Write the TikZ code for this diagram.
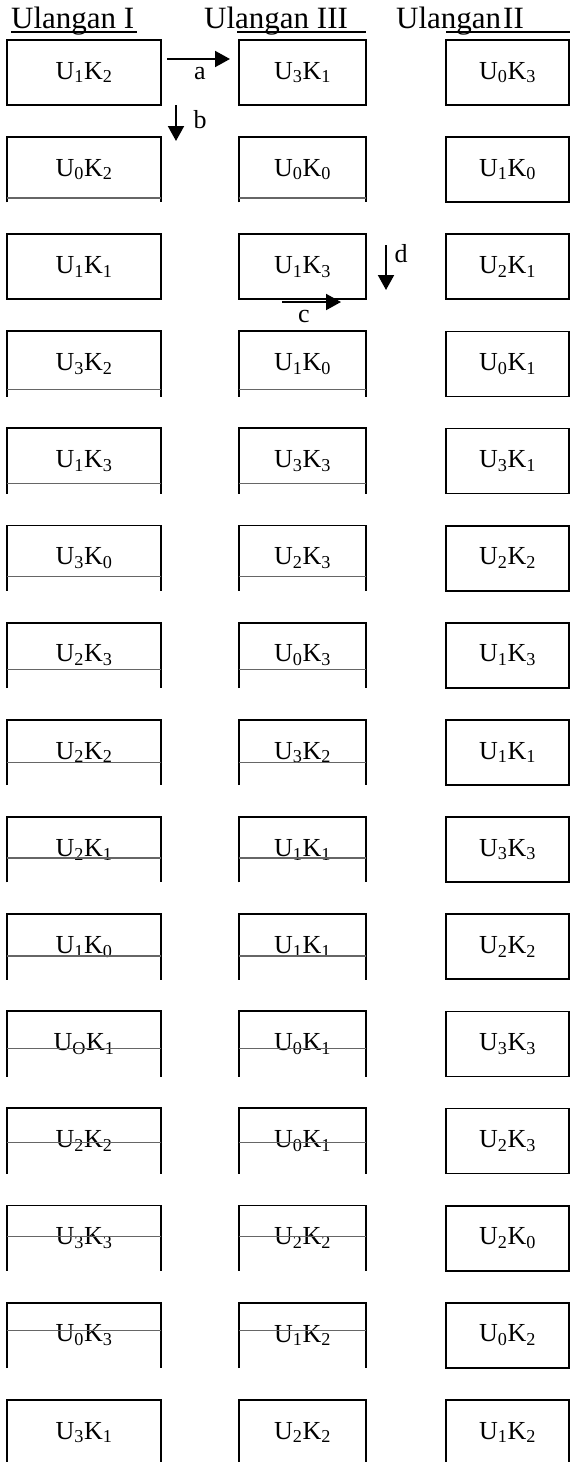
\documentclass[tikz,border=0pt]{standalone}
\usepackage{fontspec}
\setmainfont{Liberation Serif}
\usetikzlibrary{arrows.meta}
\def\UKx#1#2{U\textsubscript{#1}K\textsubscript{#2}}
\begin{document}
\begin{tikzpicture}[x=1pt,y=-1pt,
  boxline/.style={line width=1.8pt,black},
  greyline/.style={line width=1.3pt,black!60},
  uline/.style={line width=1.4pt,black},
  cell/.style={minimum width=#1,minimum height=65pt,inner sep=0pt,
    font=\fontsize{26}{30}\selectfont},
  hdr/.style={anchor=base west,inner sep=0pt,font=\fontsize{31}{36}\selectfont},
  lbl/.style={inner sep=0pt,font=\fontsize{26}{30}\selectfont},
  arr/.style={line width=2pt,-{Triangle[length=15pt,width=16pt]}}
]
\useasboundingbox (0,0) rectangle (570,1462);

% headers
\node[hdr] (h1) at (11,28) {Ulangan I};
\node[hdr] (h2) at (204,28) {Ulangan III};
\node[hdr] (h3) at (396,28) {Ulangan\kern2pt II};
\draw[uline] (11,32) -- (137,32);
\draw[uline] (237,32) -- (366,32);
\draw[uline] (446,32) -- (570,32);

\foreach \r/\A/\B/\C/\g in {
 1/12/31/03/0,
 2/02/00/10/61,
 3/11/13/21/0,
 4/32/10/01/58,
 5/13/33/31/55,
 6/30/23/22/51,
 7/23/03/13/47,
 8/22/32/11/43,
 9/21/11/33/41,
 10/10/11/22/42,
 11/O1/01/33/37,
 12/22/01/23/34,
 13/33/22/20/31,
 14/03/12/02/28,
 15/31/22/12/-1}{
  \pgfmathsetmacro\t{40+97.143*(\r-1)+32.5}
  \ifnum\g=0
    \node[cell=154pt,draw,boxline] (c\r-1) at (84,\t) {\expandafter\UKx\A};
    \node[cell=127pt,draw,boxline] (c\r-2) at (302.5,\t) {\expandafter\UKx\B};
  \else
    \node[cell=154pt] (c\r-1) at (84,\t) {\expandafter\UKx\A};
    \node[cell=127pt] (c\r-2) at (302.5,\t) {\expandafter\UKx\B};
    \ifnum\g<0
      \foreach \k in {1,2}{
        \draw[boxline] ([yshift=-64pt]c\r-\k.north west) -- (c\r-\k.north west)
          -- (c\r-\k.north east) -- ([yshift=-64pt]c\r-\k.north east);
      }
    \else
      \foreach \k in {1,2}{
        \draw[boxline] (c\r-\k.south west) -- (c\r-\k.north west)
          -- (c\r-\k.north east) -- (c\r-\k.south east);
        \draw[greyline] ([yshift=-\g pt]c\r-\k.north west) -- ([yshift=-\g pt]c\r-\k.north east);
      }
    \fi
  \fi
  \ifnum\g<0
    \node[cell=123pt] (c\r-3) at (507.5,\t) {\expandafter\UKx\C};
    \draw[boxline] ([yshift=-64pt]c\r-3.north west) -- (c\r-3.north west)
      -- (c\r-3.north east) -- ([yshift=-64pt]c\r-3.north east);
  \else
    \node[cell=123pt,draw,boxline] (c\r-3) at (507.5,\t) {\expandafter\UKx\C};
  \fi
}

% arrows and their labels
\coordinate (aS) at (167,59);
\coordinate (aE) at (230,59);
\draw[arr] (aS) -- (aE);
\node[lbl] (la) at (200,74) {a};

\coordinate (bS) at (176,105);
\coordinate (bE) at (176,141);
\draw[arr] (bS) -- (bE);
\node[lbl] (lb) at (200,120) {b};

\coordinate (cS) at (282,302);
\coordinate (cE) at (341,302);
\draw[arr] (cS) -- (cE);
\node[lbl] (lc) at (304,316) {c};

\coordinate (dS) at (386,245);
\coordinate (dE) at (386,290);
\draw[arr] (dS) -- (dE);
\node[lbl] (ld) at (401,254) {d};
\end{tikzpicture}
\end{document}
